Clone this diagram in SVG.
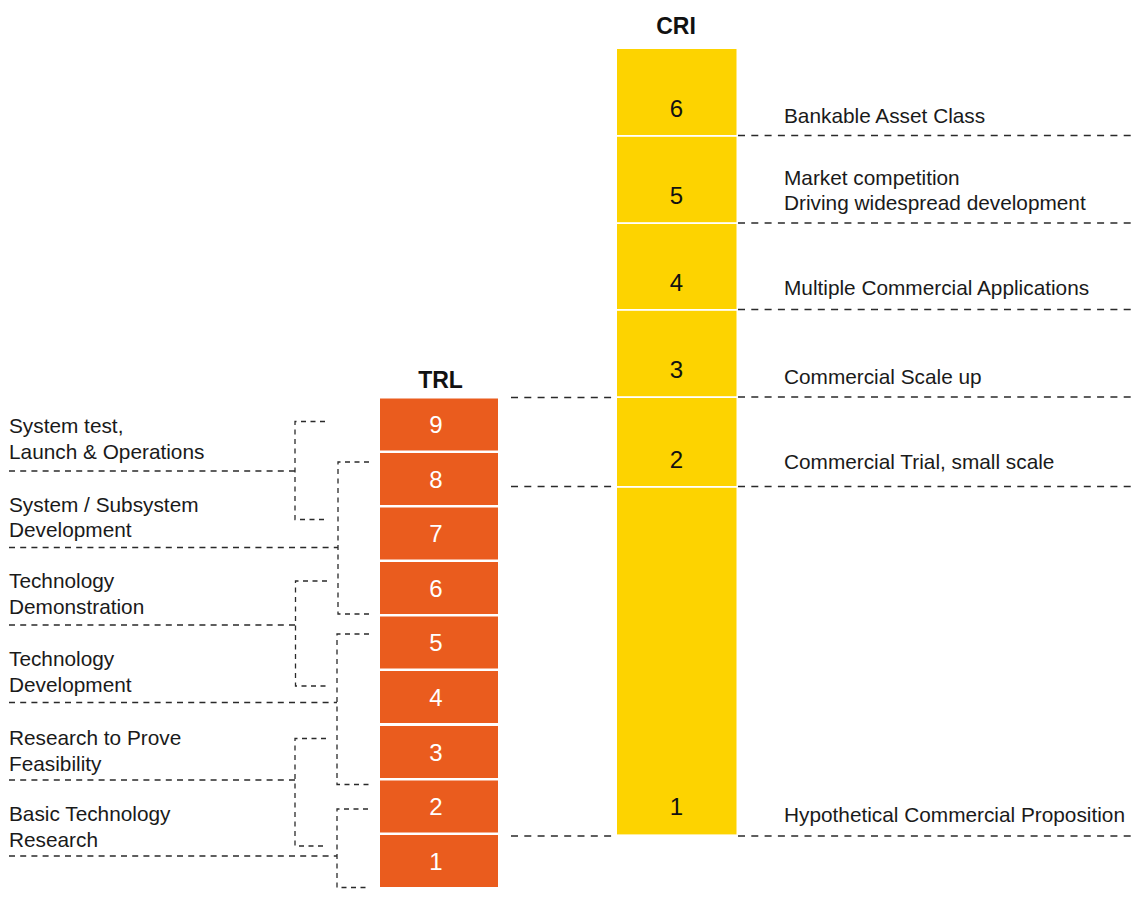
<svg xmlns="http://www.w3.org/2000/svg" width="1137" height="900" viewBox="0 0 1137 900">
<style>
.trl{fill:#EA5C1E}
.cri{fill:#FDD300}
.tn{font-family:"Liberation Sans",Arial,sans-serif;font-size:24px;fill:#fff;text-anchor:middle}
.cn{font-family:"Liberation Sans",Arial,sans-serif;font-size:24px;fill:#111;text-anchor:middle}
.ttl{font-family:"Liberation Sans",Arial,sans-serif;font-size:23px;font-weight:bold;fill:#111;text-anchor:middle}
.lbl{font-family:"Liberation Sans",Arial,sans-serif;font-size:20.8px;fill:#1a1a1a}
.d1{fill:none;stroke:#2a2a2a;stroke-width:1.4;stroke-dasharray:7 6.3}
.d2{fill:none;stroke:#2a2a2a;stroke-width:1.4;stroke-dasharray:6 5.2}
.d3{fill:none;stroke:#2a2a2a;stroke-width:1.3;stroke-dasharray:5 4.5}
</style>
<rect width="1137" height="900" fill="#fff"/>
<text class="ttl" x="676" y="34">CRI</text>
<text class="ttl" x="440.5" y="388">TRL</text>
<g id="cri6"><rect class="cri" x="617" y="49" width="119.5" height="86"/><text class="cn" x="676.5" y="117">6</text></g>
<g id="cri5"><rect class="cri" x="617" y="136.8" width="119.5" height="85.4"/><text class="cn" x="676.5" y="204">5</text></g>
<g id="cri4"><rect class="cri" x="617" y="224" width="119.5" height="85"/><text class="cn" x="676.5" y="291">4</text></g>
<g id="cri3"><rect class="cri" x="617" y="310.8" width="119.5" height="85.4"/><text class="cn" x="676.5" y="378">3</text></g>
<g id="cri2"><rect class="cri" x="617" y="398" width="119.5" height="88"/><text class="cn" x="676.5" y="468">2</text></g>
<g id="cri1"><rect class="cri" x="617" y="487.8" width="119.5" height="346.6"/><text class="cn" x="676.5" y="815">1</text></g>
<g id="trl9"><rect class="trl" x="380" y="398.5" width="118" height="52"/><text class="tn" x="436" y="433">9</text></g>
<g id="trl8"><rect class="trl" x="380" y="453" width="118" height="52"/><text class="tn" x="436" y="487.7">8</text></g>
<g id="trl7"><rect class="trl" x="380" y="507.5" width="118" height="52"/><text class="tn" x="436" y="542.2">7</text></g>
<g id="trl6"><rect class="trl" x="380" y="562" width="118" height="52"/><text class="tn" x="436" y="596.7">6</text></g>
<g id="trl5"><rect class="trl" x="380" y="616.5" width="118" height="52"/><text class="tn" x="436" y="651.2">5</text></g>
<g id="trl4"><rect class="trl" x="380" y="671" width="118" height="52"/><text class="tn" x="436" y="705.7">4</text></g>
<g id="trl3"><rect class="trl" x="380" y="726" width="118" height="52"/><text class="tn" x="436" y="760.7">3</text></g>
<g id="trl2"><rect class="trl" x="380" y="780.5" width="118" height="52"/><text class="tn" x="436" y="815.2">2</text></g>
<g id="trl1"><rect class="trl" x="380" y="835" width="118" height="52"/><text class="tn" x="436" y="869.7">1</text></g>
<g id="cri-labels">
<text class="lbl" x="784" y="122.5">Bankable Asset Class</text>
<text class="lbl" x="784" y="185">Market competition</text>
<text class="lbl" x="784" y="209.5">Driving widespread development</text>
<text class="lbl" x="784" y="295">Multiple Commercial Applications</text>
<text class="lbl" x="784" y="383.5">Commercial Scale up</text>
<text class="lbl" x="784" y="468.5">Commercial Trial, small scale</text>
<text class="lbl" x="784" y="821.5">Hypothetical Commercial Proposition</text>
</g>
<g id="trl-labels">
<text class="lbl" x="9" y="433">System test,</text>
<text class="lbl" x="9" y="459">Launch &amp; Operations</text>
<text class="lbl" x="9" y="511.5">System / Subsystem</text>
<text class="lbl" x="9" y="537">Development</text>
<text class="lbl" x="9" y="588">Technology</text>
<text class="lbl" x="9" y="614">Demonstration</text>
<text class="lbl" x="9" y="666">Technology</text>
<text class="lbl" x="9" y="692">Development</text>
<text class="lbl" x="9" y="745">Research to Prove</text>
<text class="lbl" x="9" y="771">Feasibility</text>
<text class="lbl" x="9" y="821">Basic Technology</text>
<text class="lbl" x="9" y="847">Research</text>
</g>
<g id="connectors">
<path class="d1" d="M738 135.5H1137M738 223H1137M738 309.5H1137M738 397H1137M738 486.5H1137M738 836H1137"/>
<path class="d1" d="M511 397.5H617M511 486.5H617M511 836H617"/>
<path class="d2" d="M9 471H295M9 547.5H338M9 625H295M9 702.5H337M9 780H295M9 856H337"/>
<path class="d3" d="M325 421.5H295V519.5H325"/>
<path class="d3" d="M369 462H338V614H369"/>
<path class="d3" d="M327 581H295.5V686H327"/>
<path class="d3" d="M369 634H337V784.5H369"/>
<path class="d3" d="M326 738.5H295V846H326"/>
<path class="d3" d="M368 809H337V887.5H368"/>
</g>
</svg>
